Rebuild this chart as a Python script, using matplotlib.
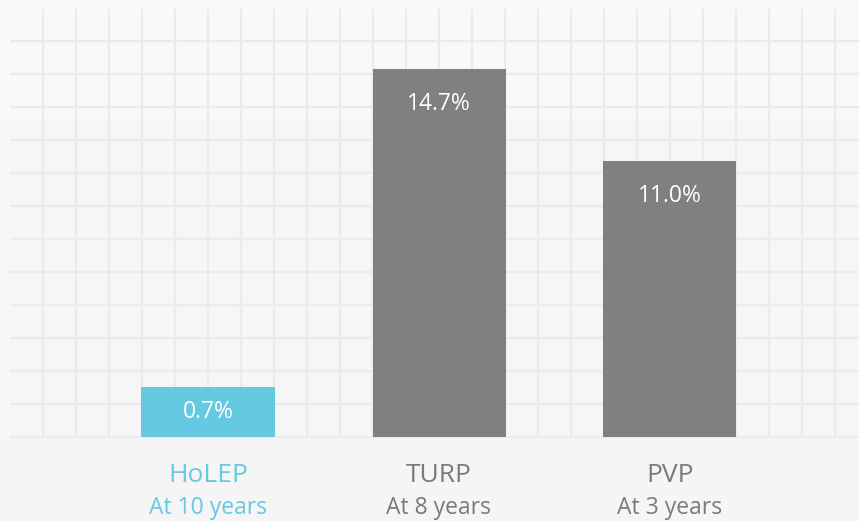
import matplotlib
matplotlib.use("Agg")
import matplotlib.pyplot as plt

# data
procedures = ["HoLEP", "TURP", "PVP"]
follow_up = ["At 10 years", "At 8 years", "At 3 years"]
retreatment = [0.7, 14.7, 11.0]

BLUE = "#64c9e1"
GREY = "#808080"
colors = [BLUE, GREY, GREY]
label_colors = [BLUE, "#7a7a7a", "#7a7a7a"]
min_bar = 2.0  # small values get a visible minimum bar height

plt.rcParams["font.family"] = ["Open Sans", "DejaVu Sans"]

W, H = 859, 521
fig = plt.figure(figsize=(W / 100, H / 100), dpi=100)
fig.patch.set_facecolor("#f6f6f8")

# background grid (pixel coordinates)
bg = fig.add_axes([0, 0, 1, 1])
bg.set_xlim(0, W)
bg.set_ylim(H, 0)
bg.axis("off")
bg.set_facecolor("none")
bg.axhspan(0, 120, color="#f9f9fb", lw=0)
bg.axhspan(440, H, color="#f5f5f5", lw=0)
for k in range(13):
    y = 41 + 33 * k
    bg.plot([10, W], [y, y], color="#ebebeb", lw=1.6, solid_capstyle="butt")
for k in range(25):
    x = 43 + 33 * k
    bg.plot([x, x], [9, 437], color="#ebebeb", lw=1.6, solid_capstyle="butt")

# bars: y=0 at pixel 437, ~25 px per percent
ax = fig.add_axes([0, 0, 1, 1])
ax.set_facecolor("none")
px = 25.05
ax.set_ylim(-(H - 437) / px, 437 / px)
step = 231
ax.set_xlim(-208 / step, (W - 208) / step)
ax.axis("off")

heights = [max(v, min_bar) for v in retreatment]
xs = range(len(procedures))
ax.bar(xs, heights, width=133 / step, color=colors, zorder=3)

for i, (v, h) in enumerate(zip(retreatment, heights)):
    if h < 4:
        ty = h / 2
    else:
        ty = h - 35 / px
    ax.text(i, ty, f"{v:.1f}%", color="white", fontsize=16.5,
            ha="center", va="center", zorder=4)
    ax.text(i, -(476 - 437) / px, procedures[i], color=label_colors[i],
            fontsize=19, ha="center", va="center")
    ax.text(i, -(508 - 437) / px, follow_up[i], color=label_colors[i],
            fontsize=16.5, ha="center", va="center")

fig.savefig("out.png", dpi=100, facecolor=fig.get_facecolor())
